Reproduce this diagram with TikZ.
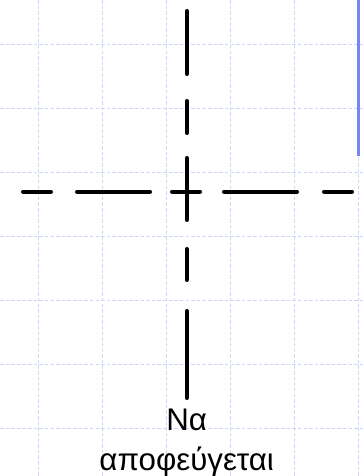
\documentclass[tikz,border=0pt]{standalone}
\usepackage{fontspec}
\setmainfont{Liberation Sans}
\usetikzlibrary{positioning}
\definecolor{gridblue}{RGB}{204,214,250}
\definecolor{edgeblue}{RGB}{118,136,240}

\begin{document}
\begin{tikzpicture}[
  x=0.02cm, y=-0.02cm,
  gridline/.style = {draw=gridblue, line width=0.5pt, dash pattern=on 2pt off 1.2pt},
  axisdash/.style = {black, line width=0.08cm, line cap=round},
  edgeline/.style = {draw=edgeblue, line width=0.06cm},
  captext/.style  = {font=\fontsize{17.8}{20}\selectfont, inner sep=0pt, anchor=base}
]
\useasboundingbox (0,0) rectangle (363,476);

%% ---------- background grid ----------
\foreach \gx in {38,102,...,358}
  \draw[gridline] (\gx,0) -- (\gx,476);
\foreach \gy in {44,108,...,428}
  \draw[gridline] (0,\gy) -- (363,\gy);

\draw[edgeline] (358,0) -- (358,156);

%% ---------- dash-dot cross ----------
\coordinate (ctr) at (186.7,191.7);

% vertical axis
\foreach \a/\b in {11/74, 101/133, 158/220, 249/280, 311/398}
  \draw[axisdash] (ctr |- 0,\a) -- (ctr |- 0,\b);

% horizontal axis
\foreach \a/\b in {23/51, 77/150, 224/297, 324/352}
  \draw[axisdash] (ctr -| \a,0) -- (ctr -| \b,0);

% short bar at the crossing
\draw[axisdash] (ctr -| 172,0) -- (ctr -| 200,0);

%% ---------- caption ----------
\node[captext] (na)    at (186.7,430) {Να};
\node[captext] (avoid) at (186.7,470) {αποφεύγεται};

\end{tikzpicture}
\end{document}
